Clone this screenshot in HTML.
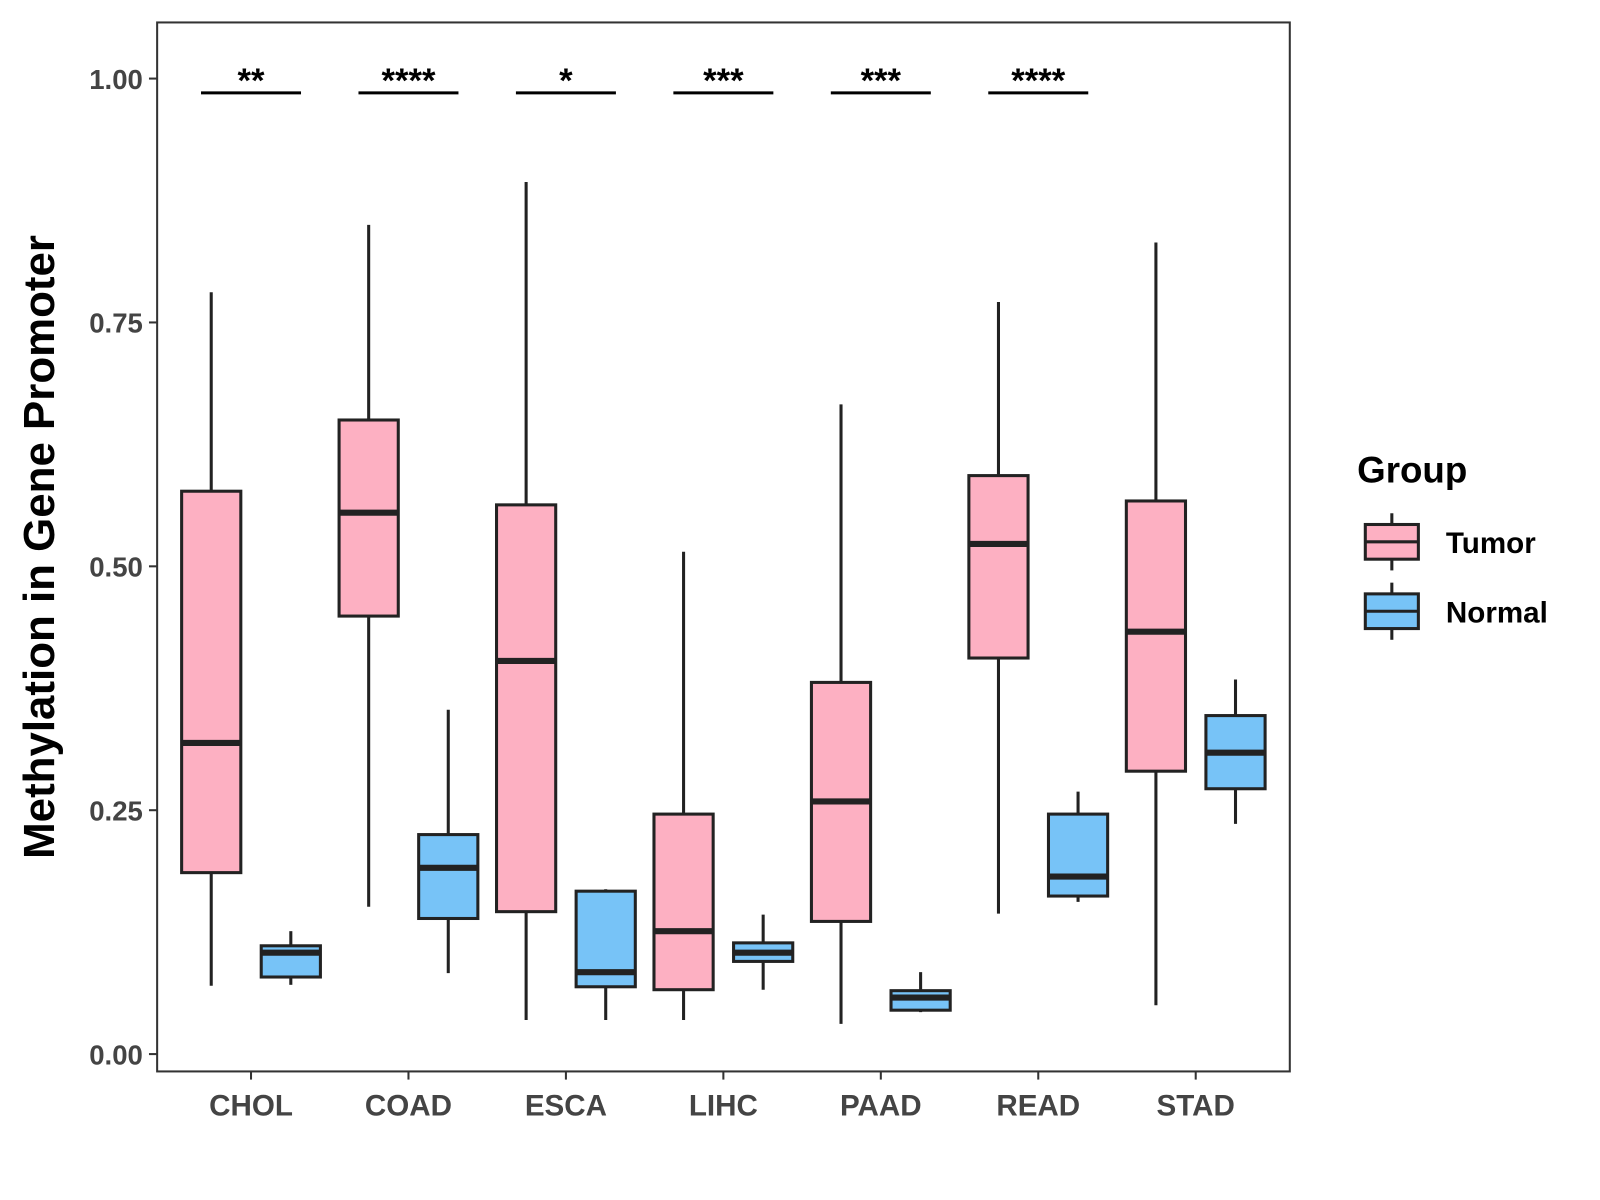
<!DOCTYPE html>
<html><head><meta charset="utf-8"><style>body{margin:0;background:#fff}svg{display:block}text{font-family:"Liberation Sans",Arial,sans-serif;font-weight:bold}</style></head>
<body>
<svg id="chart" width="1600" height="1200" viewBox="0 0 1568 1176" xmlns="http://www.w3.org/2000/svg">
<rect x="0" y="0" width="1568" height="1176" fill="#fff"/>
<g id="plot"></g>
</svg>
<script>
const categories = ["CHOL","COAD","ESCA","LIHC","PAAD","READ","STAD"];
// [lowWhisker, q1, median, q3, highWhisker]
const tumorStats = [
 [0.070,0.186,0.319,0.577,0.781],
 [0.151,0.449,0.555,0.650,0.850],
 [0.035,0.146,0.403,0.563,0.894],
 [0.035,0.066,0.126,0.246,0.515],
 [0.031,0.136,0.259,0.381,0.666],
 [0.144,0.406,0.523,0.593,0.771],
 [0.050,0.290,0.433,0.567,0.832]
];
const normalStats = [
 [0.071,0.079,0.104,0.111,0.126],
 [0.083,0.139,0.191,0.225,0.353],
 [0.035,0.069,0.084,0.167,0.169],
 [0.066,0.095,0.104,0.114,0.143],
 [0.043,0.045,0.058,0.065,0.084],
 [0.156,0.162,0.182,0.246,0.269],
 [0.236,0.272,0.309,0.347,0.384]
];
const sigLabels = ["**","****","*","***","***","****",""];
const yTicks = [0,0.25,0.5,0.75,1.0];
const yTickLabels = ["0.00","0.25","0.50","0.75","1.00"];

const NS="http://www.w3.org/2000/svg";
const g=document.getElementById('plot');
const L=154,T=22,R=1264,B=1050;
const y=v=>1033-v*956;
const x=i=>246+i*154.3;
function el(tag,attrs,parent){const e=document.createElementNS(NS,tag);for(const k in attrs)e.setAttribute(k,attrs[k]);(parent||g).appendChild(e);return e;}

const panel=el('rect',{x:L,y:T,width:R-L,height:B-T,fill:'none',stroke:'#333',"stroke-width":2});



yTicks.forEach((t,i)=>{
  const tk=el('line',{x1:L-8,x2:L,y1:y(t),y2:y(t),stroke:'#333',"stroke-width":2});
  
  
  const tx=el('text',{x:L-14,y:y(t)+10,"text-anchor":"end","font-size":27,fill:'#444'});
  tx.textContent=yTickLabels[i];
  
  
});
categories.forEach((c,i)=>{
  const tk=el('line',{x1:x(i),x2:x(i),y1:B,y2:B+8,stroke:'#333',"stroke-width":2});
  
  
  const tx=el('text',{x:x(i),y:1093,"text-anchor":"middle","font-size":29,fill:'#444'});
  tx.textContent=c;
  
  
});

function box(cx,s,fill,name){
  const w=58;
  const grp=el('g',{});
  
  
  el('line',{x1:cx,x2:cx,y1:y(s[4]),y2:y(s[0]),stroke:'#222',"stroke-width":3},grp);
  el('rect',{x:cx-w/2,y:y(s[3]),width:w,height:y(s[1])-y(s[3]),fill:fill,stroke:'#222',"stroke-width":3},grp);
  el('line',{x1:cx-w/2,x2:cx+w/2,y1:y(s[2]),y2:y(s[2]),stroke:'#222',"stroke-width":6},grp);
}
categories.forEach((c,i)=>{
  box(x(i)-39,tumorStats[i],'#FDB0C2','tumor-box-'+c.toLowerCase());
  box(x(i)+39,normalStats[i],'#77C3F7','normal-box-'+c.toLowerCase());
  if(sigLabels[i]){
    const ln=el('line',{x1:x(i)-49,x2:x(i)+49,y1:91,y2:91,stroke:'#000',"stroke-width":3});
    
    
    const st=el('text',{x:x(i),y:90,"text-anchor":"middle","font-size":34,fill:'#000'});
    st.textContent=sigLabels[i];
    
    
  }
});

const yt=el('text',{x:53,y:536,"text-anchor":"middle","font-size":43,fill:'#000',transform:'rotate(-90 53 536)'});
yt.textContent='Methylation in Gene Promoter';



const lt=el('text',{x:1330,y:473,"font-size":36,fill:'#000'});
lt.textContent='Group';


[["Tumor",'#FDB0C2',531],["Normal",'#77C3F7',599]].forEach(([n,f,cy])=>{
  const lg=el('g',{});
  
  
  el('line',{x1:1364,x2:1364,y1:cy-28,y2:cy+28,stroke:'#222',"stroke-width":3},lg);
  el('rect',{x:1338,y:cy-17,width:52,height:34,fill:f,stroke:'#222',"stroke-width":3},lg);
  el('line',{x1:1338,x2:1390,y1:cy,y2:cy,stroke:'#222',"stroke-width":3},lg);
  const t=el('text',{x:1417,y:cy+11,"font-size":29,fill:'#000'},lg);
  t.textContent=n;
});
</script>
</body></html>
